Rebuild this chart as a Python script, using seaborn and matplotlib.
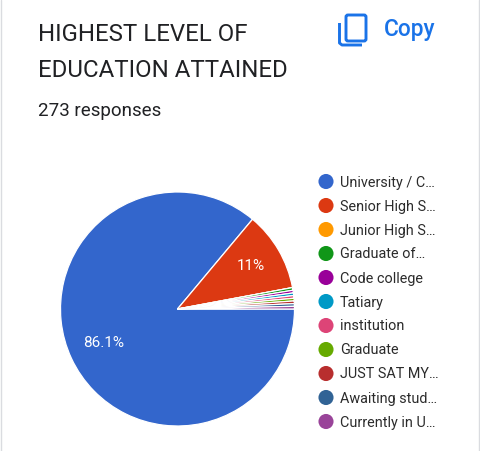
import matplotlib
matplotlib.use("Agg")
import matplotlib.pyplot as plt
from matplotlib.patches import FancyBboxPatch
import seaborn as sns

# data
categorias = ["University / C…", "Senior High S…", "Junior High S…", "Graduate of…", "Code college",
              "Tatiary", "institution", "Graduate", "JUST SAT MY…", "Awaiting stud…", "Currently in U…"]
respostas = [235, 30, 0, 1, 1, 1, 1, 1, 1, 1, 1]
cores = ["#3366cc", "#dc3912", "#ff9900", "#109618", "#990099", "#0099c6",
         "#dd4477", "#66aa00", "#b82e2e", "#316395", "#994499"]
titulo = ["HIGHEST LEVEL OF", "EDUCATION ATTAINED"]
subtitulo = "273 responses"

sns.set_theme(style="white")
plt.rcParams["font.family"] = ["Roboto", "DejaVu Sans"]

W, H = 480, 451
fig = plt.figure(figsize=(W / 100, H / 100), dpi=100, facecolor="white")

# ----------------------------
# camada em pixels (textos, legenda, icone)
# ----------------------------
bg = fig.add_axes([0, 0, 1, 1])
bg.set_xlim(0, W)
bg.set_ylim(H, 0)
bg.axis("off")

bg.axvline(0.5, color="#dadce0", lw=1.0)
bg.axvline(479, color="#dadce0", lw=1.0)

for i, linha in enumerate(titulo):
    bg.text(38, 41 + 36 * i, linha, fontsize=17.3, color="#202124", va="baseline")
bg.text(38, 116, subtitulo, fontsize=13.5, color="#202124", va="baseline")

# icone copy
azul = "#1a73e8"
bg.add_patch(FancyBboxPatch((346, 15), 20, 26, boxstyle="round,pad=0,rounding_size=2",
                            fc="none", ec=azul, lw=2.1))
bg.plot([339.5, 339.5, 342, 362], [23, 43, 45, 45], color=azul, lw=2.1, solid_capstyle="butt")
bg.text(384, 36, "Copy", fontsize=16.3, color=azul, va="baseline", fontweight="medium")

# legenda
ys = [181.5 + 24 * i for i in range(len(categorias))]
sns.scatterplot(x=[326] * len(ys), y=ys, hue=categorias, palette=cores, hue_order=categorias,
                s=118, linewidth=0, legend=False, ax=bg)
bg.set_xlim(0, W)
bg.set_ylim(H, 0)
bg.axis("off")
for y, nome in zip(ys, categorias):
    bg.text(340, y + 5, nome, fontsize=10.4, color="#2b2b2b", va="baseline")

# ----------------------------
# pizza
# ----------------------------
R = 117
cx, cy = 177.5, 309
ax = fig.add_axes([(cx - R) / W, (H - cy - R) / H, 2 * R / W, 2 * R / H])


def rotulo(p):
    return f"{p:.3g}%" if p > 5 else ""


fatias, _, autos = ax.pie(respostas, colors=cores, startangle=0, counterclock=False, radius=1,
                          autopct=rotulo, pctdistance=0.7,
                          wedgeprops={"edgecolor": "white", "linewidth": 0.9},
                          textprops={"color": "white", "fontsize": 11})
ax.set_xlim(-1, 1)
ax.set_ylim(-1, 1)
autos[0].set_position((-0.63, -0.29))
autos[1].set_position((0.63, 0.37))

fig.savefig("out.png", dpi=100)
